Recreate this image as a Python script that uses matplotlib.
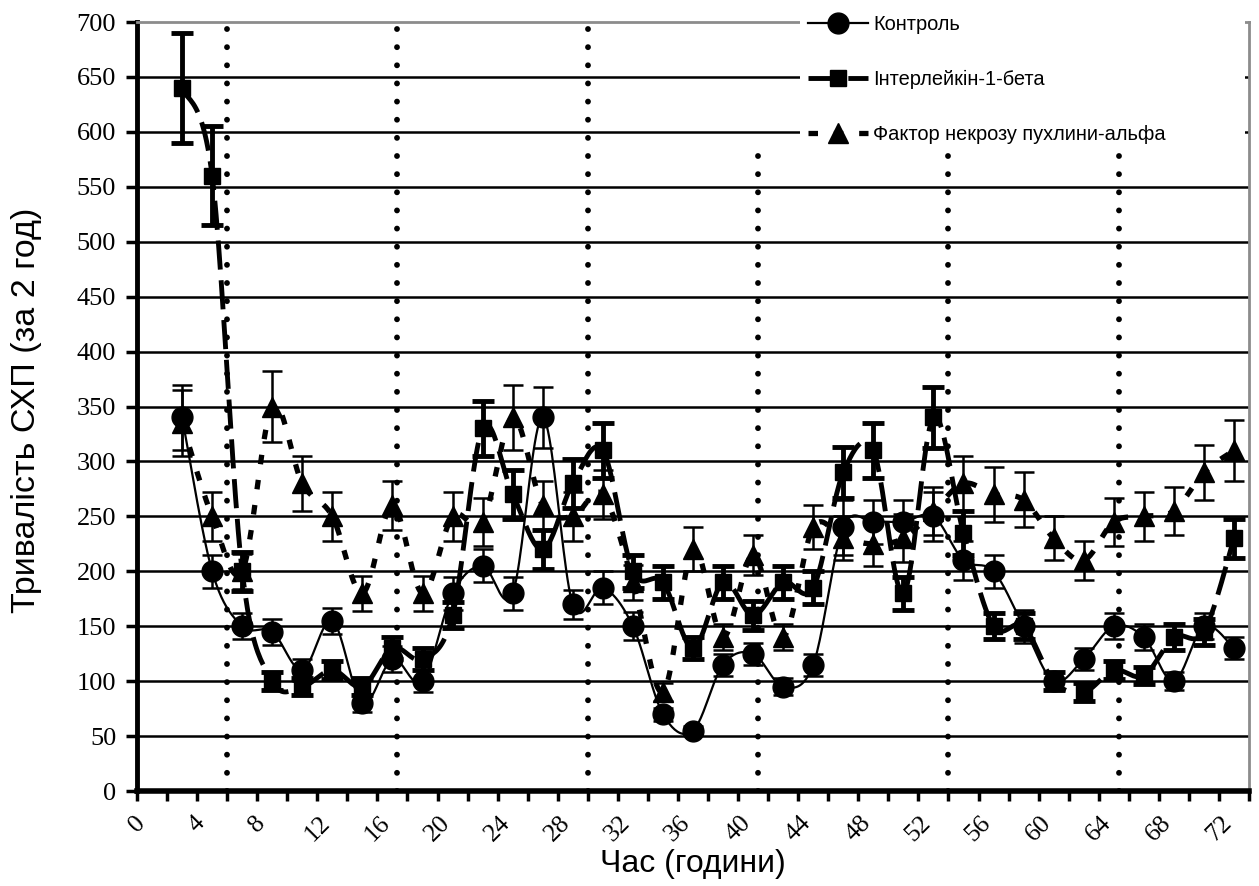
import numpy as np
import matplotlib
matplotlib.use('Agg')
from matplotlib import pyplot as plt
from matplotlib.lines import Line2D
from matplotlib.patches import Rectangle
from matplotlib.ticker import MultipleLocator

hours = [3, 5, 7, 9, 11, 13, 15, 17, 19, 21, 23, 25, 27, 29, 31, 33, 35, 37,
         39, 41, 43, 45, 47, 49, 51, 53, 55, 57, 59, 61, 63, 65, 67, 69, 71, 73]

control = [340, 200, 150, 145, 110, 155, 80, 120, 100, 180, 205, 180, 340, 170, 185, 150, 70, 55,
           115, 125, 95, 115, 240, 245, 245, 250, 210, 200, 150, 100, 120, 150, 140, 100, 150, 130]
control_err = [30, 15, 12, 12, 10, 12, 8, 12, 10, 15, 15, 15, 28, 13, 15, 13, 6, 4,
               10, 10, 8, 10, 25, 20, 20, 22, 18, 15, 15, 8, 10, 12, 12, 8, 12, 10]

il1b = [640, 560, 200, 100, 95, 110, 95, 130, 120, 160, 330, 270, 220, 280, 310, 200, 190, 130,
        190, 160, 190, 185, 290, 310, 180, 340, 235, 150, 150, 100, 90, 110, 105, 140, 145, 230]
il1b_err = [50, 45, 18, 8, 8, 8, 8, 10, 10, 12, 25, 22, 18, 22, 25, 15, 15, 10,
            15, 13, 15, 15, 23, 25, 15, 28, 20, 12, 12, 8, 8, 8, 8, 12, 12, 18]

tnf = [335, 250, 200, 350, 280, 250, 180, 260, 180, 250, 245, 340, 260, 250, 270, 190, 90, 220,
       140, 215, 140, 240, 230, 225, 230, 255, 280, 270, 265, 230, 210, 245, 250, 255, 290, 310]
tnf_err = [30, 22, 16, 32, 25, 22, 16, 22, 16, 22, 22, 30, 22, 22, 22, 16, 8, 20,
           12, 18, 12, 20, 20, 20, 22, 22, 25, 25, 25, 20, 18, 22, 22, 22, 25, 28]

# day/night boundaries and how high each dotted marker reaches
boundaries = [6, 17.33, 30, 41.33, 54, 65.33]
boundary_tops = [700, 700, 700, 582, 582, 582]

labels = ['Контроль', 'Інтерлейкін-1-бета', 'Фактор некрозу пухлини-альфа']

W, H = 1259, 886
AX_L, AX_R, AX_T, AX_B = 137, 1249, 22, 791
XMAX, YMAX = 74, 700


def smooth(x, y, n=24):
    # Bezier smoothing like a spreadsheet "smoothed line", done in pixel-like units
    sx = (AX_R - AX_L) / XMAX
    sy = (AX_B - AX_T) / YMAX
    pts = np.column_stack([np.asarray(x, float) * sx, np.asarray(y, float) * sy])
    out = []
    t = np.linspace(0, 1, n)[:, None]
    for i in range(len(pts) - 1):
        p0 = pts[max(i - 1, 0)]
        p1 = pts[i]
        p2 = pts[i + 1]
        p3 = pts[min(i + 2, len(pts) - 1)]
        c1 = p1 + (p2 - p0) / 6
        c2 = p2 - (p3 - p1) / 6
        seg = (1 - t) ** 3 * p1 + 3 * (1 - t) ** 2 * t * c1 + 3 * (1 - t) * t ** 2 * c2 + t ** 3 * p2
        out.append(seg if i == 0 else seg[1:])
    out = np.vstack(out)
    return out[:, 0] / sx, out[:, 1] / sy


fig = plt.figure(figsize=(W / 100, H / 100), dpi=100)
ax = fig.add_axes([AX_L / W, 1 - AX_B / H, (AX_R - AX_L) / W, (AX_B - AX_T) / H])
ax.set_xlim(0, XMAX)
ax.set_ylim(0, YMAX)

for v in range(50, 700, 50):
    ax.axhline(v, color='black', lw=1.8, zorder=1)

for b, top in zip(boundaries, boundary_tops):
    ax.plot([b, b], [0, top], color='black', lw=4.2, linestyle=(0, (0.01, 3.1)),
            dash_capstyle='round', zorder=2)

styles = [
    dict(data=control, err=control_err, marker='o', ms=15, lw=1.6, ls='-',
         elw=1.8, cap=7),
    dict(data=il1b, err=il1b_err, marker='s', ms=12, lw=3.5, ls=(0, (6, 2.2)),
         elw=3.5, cap=8),
    dict(data=tnf, err=tnf_err, marker='^', ms=14, lw=3.8, ls=(0, (1.8, 3)),
         elw=1.8, cap=7),
]

for st in styles:
    sx, sy = smooth(hours, st['data'])
    ax.plot(sx, sy, color='black', lw=st['lw'], linestyle=st['ls'], zorder=3)
    ax.errorbar(hours, st['data'], yerr=st['err'], fmt='none', ecolor='black',
                elinewidth=st['elw'], capsize=st['cap'], capthick=st['elw'], zorder=4)
    ax.plot(hours, st['data'], linestyle='none', marker=st['marker'], ms=st['ms'],
            color='black', zorder=4)

# spines: thick black axes, thin grey plot-area border
for side in ('left', 'bottom'):
    ax.spines[side].set_color('black')
ax.spines['left'].set_linewidth(3.5)
ax.spines['bottom'].set_linewidth(4)
for side in ('top', 'right'):
    ax.spines[side].set_color('#8c8c8c')
    ax.spines[side].set_linewidth(2)

ax.yaxis.set_major_locator(MultipleLocator(50))
ax.xaxis.set_major_locator(MultipleLocator(4))
ax.xaxis.set_minor_locator(MultipleLocator(2))
ax.tick_params(axis='y', direction='out', length=8, width=2.5, pad=7,
               labelsize=19, labelfontfamily='Liberation Serif')
ax.tick_params(axis='x', which='both', direction='out', length=7, width=2.5)
ax.tick_params(axis='x', which='major', pad=8, labelsize=18.5,
               labelfontfamily='Liberation Serif', labelrotation=45)
for lab in ax.get_xticklabels():
    lab.set_ha('center')
    lab.set_va('top')

ax.set_xlabel('Час (години)', fontsize=23, fontfamily=['Liberation Sans', 'DejaVu Sans'],
              va='center')
ax.xaxis.set_label_coords(0.5, -0.095)
ax.set_ylabel('Тривалість СХП (за 2 год)', fontsize=24.5,
              fontfamily=['Liberation Sans', 'DejaVu Sans'], va='center')
ax.yaxis.set_label_coords(-0.099, 0.495)

# white box behind the legend, hiding the grid there
ax.add_patch(Rectangle((800 / W, 1 - 152 / H), 445 / W, 152 / H,
                       transform=fig.transFigure, facecolor='white', edgecolor='none',
                       clip_on=False, zorder=5))

handles = [
    Line2D([], [], color='black', lw=1.6, marker='o', ms=15),
    Line2D([], [], color='black', lw=3.5, ls=(0, (6, 2.2)), marker='s', ms=12),
    Line2D([], [], color='black', lw=3.8, ls=(0, (1.8, 3)), marker='^', ms=14),
]
leg = fig.legend(handles, labels, loc='upper left', bbox_to_anchor=(808 / W, 1 - 15 / H),
                 frameon=False, handlelength=3.0, handletextpad=0.25,
                 labelspacing=1.8, borderpad=0, borderaxespad=0,
                 prop={'family': 'Liberation Sans', 'size': 14.4})
leg.set_zorder(6)

fig.savefig('out.png', dpi=100)
